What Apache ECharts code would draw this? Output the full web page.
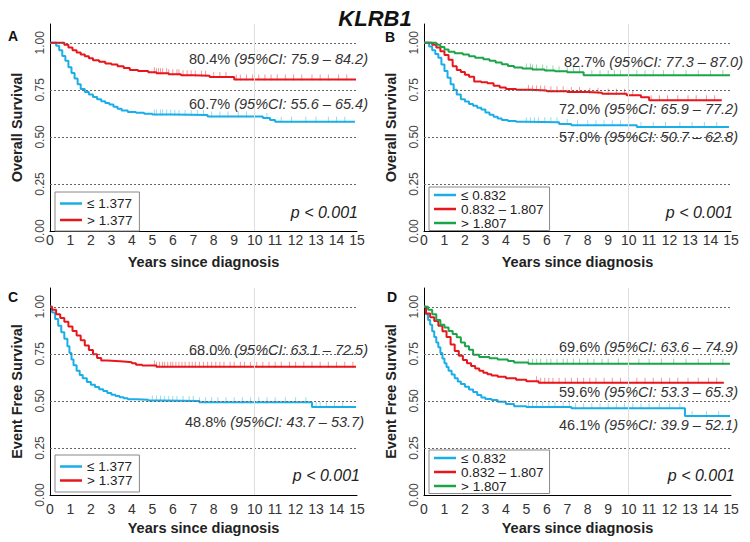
<!DOCTYPE html>
<html>
<head>
<meta charset="utf-8">
<script src="https://cdn.jsdelivr.net/npm/echarts@6/dist/echarts.min.js"></script>
<style>html,body{margin:0;padding:0;background:#fff;}#c{width:750px;height:542px;}</style>
</head>
<body>
<div id="c"></div>
<script>
// ---------- DATA ----------
const title = 'KLRB1';
const xTicks = [0,1,2,3,4,5,6,7,8,9,10,11,12,13,14,15];
const yTicks = [0, 0.25, 0.5, 0.75, 1.0];
const panelLetters = ['A','B','C','D'];
const yNames = ['Overall Survival','Overall Survival','Event Free Survival','Event Free Survival'];
const xName = 'Years since diagnosis';
const pText = 'p < 0.001';
const names2 = ['≤ 1.377', '> 1.377'];
const names3 = ['≤ 0.832', '0.832 – 1.807', '> 1.807'];

// Panel A (OS, 2 groups)
const A_low_t  = [0,0.3,0.45,0.6,0.75,0.9,1.05,1.2,1.35,1.5,1.7,1.9,2.1,2.3,2.5,2.7,2.9,3.1,3.3,3.5,3.8,4.2,4.6,5.0,6.0,7.7,10.4,10.75,11.0,14.9];
const A_low_s  = [1.0,0.985,0.96,0.93,0.905,0.87,0.84,0.81,0.78,0.755,0.738,0.725,0.712,0.70,0.69,0.68,0.672,0.66,0.65,0.64,0.633,0.628,0.623,0.619,0.616,0.609,0.600,0.59,0.58,0.58];
const A_high_t = [0,0.7,0.9,1.1,1.3,1.5,1.7,1.9,2.1,2.4,2.7,3.0,3.3,3.6,3.9,4.3,4.8,5.2,5.8,6.4,7.0,7.8,9.0,14.95];
const A_high_s = [1.0,0.99,0.975,0.96,0.948,0.938,0.928,0.918,0.908,0.899,0.89,0.885,0.876,0.866,0.856,0.85,0.844,0.838,0.833,0.828,0.825,0.818,0.805,0.805];
const A_low_c  = [5.1,5.2,5.4,5.5,5.7,5.9,6.1,6.3,6.6,6.9,7.2,7.5,7.9,8.3,8.7,9.2,9.6,10.0,10.6,11.3,11.8,12.5,13.0,13.6,14.0,14.4];
const A_high_c = [5.1,5.2,5.3,5.4,5.5,5.7,5.8,6.0,6.2,6.3,6.5,6.7,6.9,7.1,7.4,7.6,8.0,8.3,8.6,9.1,9.3,9.6,9.9,10.2,10.5,10.8,11.1,11.5,11.9,12.3,12.8,13.2,13.6,14.1,14.5];

// Panel B (OS, 3 groups)
const B_low_t  = [0,0.25,0.4,0.55,0.7,0.85,1.0,1.15,1.3,1.45,1.6,1.8,2.0,2.2,2.4,2.6,2.8,3.0,3.2,3.4,3.6,3.8,4.1,4.5,5.0,6.6,7.2,10.4,14.9];
const B_low_s  = [1.0,0.98,0.96,0.94,0.92,0.885,0.85,0.815,0.78,0.75,0.725,0.70,0.688,0.675,0.665,0.655,0.645,0.63,0.618,0.607,0.598,0.59,0.585,0.581,0.578,0.568,0.562,0.552,0.552];
const B_mid_t  = [0,0.4,0.6,0.8,1.0,1.2,1.4,1.6,1.8,2.0,2.2,2.45,2.8,3.1,3.4,3.7,4.0,4.5,5.2,6.0,7.0,8.0,8.7,9.9,10.6,11.0,14.55];
const B_mid_s  = [1.0,0.99,0.975,0.955,0.935,0.91,0.875,0.855,0.845,0.83,0.82,0.795,0.79,0.785,0.772,0.762,0.755,0.75,0.747,0.743,0.738,0.735,0.729,0.722,0.711,0.695,0.695];
const B_high_t = [0,0.6,0.8,1.0,1.2,1.5,1.9,2.2,2.5,2.9,3.2,3.5,3.8,4.1,4.4,4.8,5.3,5.9,6.4,7.0,7.8,14.95];
const B_high_s = [1.0,0.99,0.978,0.965,0.953,0.945,0.938,0.928,0.92,0.913,0.905,0.896,0.886,0.877,0.869,0.863,0.858,0.853,0.849,0.843,0.828,0.828];
const B_low_c  = [5.0,5.2,5.4,5.6,5.9,6.2,6.5,7.0,7.5,8.0,8.4,8.8,9.2,9.6,10.0,10.6,11.2,11.8,12.5,13.1,13.7,14.3];
const B_mid_c  = [5.1,5.3,5.5,5.7,5.9,6.2,6.5,6.8,7.2,7.6,8.1,8.5,9.0,9.4,9.8,10.2,11.1,11.5,11.9,12.4,12.9,13.3,13.8,14.2];
const B_high_c = [5.0,5.2,5.3,5.5,5.8,6.0,6.3,6.6,7.0,7.3,7.6,8.2,8.6,9.0,9.3,9.6,10.0,10.4,10.8,11.2,11.7,12.2,12.8,13.4,14.0,14.6];

// Panel C (EFS, 2 groups)
const C_low_t  = [0,0.1,0.25,0.4,0.55,0.7,0.85,0.95,1.05,1.15,1.3,1.45,1.6,1.8,2.0,2.2,2.4,2.6,2.8,3.0,3.2,3.4,3.6,3.8,4.2,4.8,5.5,7.3,12.8,14.95];
const C_low_s  = [1.0,0.97,0.935,0.9,0.865,0.83,0.79,0.755,0.72,0.69,0.66,0.638,0.62,0.60,0.586,0.574,0.562,0.552,0.542,0.533,0.526,0.52,0.514,0.509,0.506,0.502,0.499,0.493,0.468,0.468];
const C_high_t = [0,0.1,0.3,0.5,0.7,0.9,1.1,1.3,1.5,1.7,1.9,2.1,2.3,2.5,2.8,3.2,3.6,4.0,4.2,4.5,5.2,14.95];
const C_high_s = [1.0,0.985,0.96,0.94,0.92,0.895,0.872,0.848,0.822,0.795,0.77,0.748,0.728,0.715,0.712,0.709,0.706,0.70,0.692,0.688,0.682,0.682];
const C_low_c  = [5.0,5.2,5.4,5.6,5.8,6.0,6.2,6.5,6.8,7.0,7.3,7.6,7.9,8.2,8.6,9.0,9.4,9.8,10.2,10.6,11.0,11.5,12.0,12.5,13.0,13.2,13.5,13.9,14.3];
const C_high_c = [5.1,5.2,5.35,5.5,5.6,5.75,5.9,6.0,6.15,6.3,6.45,6.6,6.8,6.95,7.1,7.3,7.5,7.7,7.9,8.1,8.3,8.5,8.8,9.0,9.3,9.5,9.8,10.1,10.4,10.7,11.0,11.3,11.7,12.0,12.4,12.8,13.2,13.6,14.0,14.4,14.8];

// Panel D (EFS, 3 groups)
const D_low_t  = [0,0.1,0.2,0.3,0.4,0.5,0.6,0.7,0.8,0.9,1.0,1.1,1.2,1.35,1.5,1.65,1.8,2.0,2.2,2.4,2.6,2.8,3.0,3.3,3.6,4.0,4.4,5.0,7.2,12.75,14.95];
const D_low_s  = [1.0,0.96,0.93,0.905,0.87,0.84,0.81,0.785,0.755,0.725,0.70,0.68,0.66,0.64,0.62,0.603,0.59,0.575,0.56,0.547,0.532,0.518,0.51,0.505,0.495,0.483,0.472,0.467,0.461,0.42,0.42];
const D_mid_t  = [0,0.1,0.3,0.5,0.7,0.9,1.1,1.3,1.5,1.7,1.9,2.1,2.3,2.5,2.7,2.9,3.1,3.3,3.6,4.0,4.5,5.0,5.6,14.65];
const D_mid_s  = [1.0,0.965,0.945,0.925,0.9,0.87,0.84,0.80,0.765,0.74,0.718,0.70,0.685,0.672,0.66,0.65,0.642,0.635,0.628,0.621,0.613,0.605,0.597,0.597];
const D_high_t = [0,0.2,0.4,0.6,0.8,1.0,1.2,1.4,1.6,1.8,2.0,2.2,2.4,2.7,3.2,3.6,4.1,4.4,5.1,14.95];
const D_high_s = [1.0,0.985,0.96,0.93,0.905,0.89,0.872,0.855,0.838,0.81,0.79,0.772,0.745,0.733,0.727,0.72,0.712,0.704,0.698,0.698];
const D_low_c  = [5.1,5.3,5.5,5.8,6.1,6.4,6.8,7.1,7.4,7.8,8.2,8.6,9.0,9.4,9.8,10.2,10.6,11.0,11.5,12.0,12.5,13.1,13.8,14.4];
const D_mid_c  = [5.5,5.7,5.9,6.1,6.3,6.6,6.9,7.2,7.5,7.8,8.1,8.4,8.8,9.2,9.6,10.0,10.4,10.8,11.2,11.6,12.0,12.4,12.9,13.4,13.9,14.3];
const D_high_c = [5.1,5.3,5.5,5.7,6.0,6.2,6.5,6.8,7.0,7.3,7.6,8.0,8.3,8.7,9.0,9.5,10.0,10.5,11.0,11.6,12.2,12.8,13.4,14.0,14.6];

// annotation texts [estimate, CI]
const A_notes = [['80.4%','(95%CI: 75.9 – 84.2)'], ['60.7%','(95%CI: 55.6 – 65.4)']];
const B_notes = [['82.7%','(95%CI: 77.3 – 87.0)'], ['72.0%','(95%CI: 65.9 – 77.2)'], ['57.0%','(95%CI: 50.7 – 62.8)']];
const C_notes = [['68.0%','(95%CI: 63.1 – 72.5)'], ['48.8%','(95%CI: 43.7 – 53.7)']];
const D_notes = [['69.6%','(95%CI: 63.6 – 74.9)'], ['59.6%','(95%CI: 53.3 – 65.3)'], ['46.1%','(95%CI: 39.9 – 52.1)']];

// ---------- STYLE / LAYOUT ----------
const FONT = 'Liberation Sans, Arial, sans-serif';
const BLUE = '#1AAEE8', RED = '#E8161C', GREEN = '#1BA54A';
const grids = [
  {left:50, top:24, width:307, height:207},
  {left:424, top:24, width:307, height:207},
  {left:50, top:288, width:307, height:207},
  {left:424, top:288, width:307, height:207}
];
function survAt(ts, ss, t){ let v = ss[0]; for (let i=0;i<ts.length;i++){ if (ts[i] <= t) v = ss[i]; } return v; }
function toPts(ts, ss){ return ts.map((t,i)=>[t, ss[i]]); }

const curves = [
  [0, names2[0], A_low_t, A_low_s, A_low_c, BLUE],
  [0, names2[1], A_high_t, A_high_s, A_high_c, RED],
  [1, names3[0], B_low_t, B_low_s, B_low_c, BLUE],
  [1, names3[1], B_mid_t, B_mid_s, B_mid_c, RED],
  [1, names3[2], B_high_t, B_high_s, B_high_c, GREEN],
  [2, names2[0], C_low_t, C_low_s, C_low_c, BLUE],
  [2, names2[1], C_high_t, C_high_s, C_high_c, RED],
  [3, names3[0], D_low_t, D_low_s, D_low_c, BLUE],
  [3, names3[1], D_mid_t, D_mid_s, D_mid_c, RED],
  [3, names3[2], D_high_t, D_high_s, D_high_c, GREEN]
];

const series = [];
for (let g=0; g<4; g++){
  series.push({
    type:'line', xAxisIndex:g, yAxisIndex:g, data:[], silent:true, z:1, name:'ref'+g,
    markLine:{
      silent:true, symbol:['none','none'], label:{show:false}, animation:false,
      data:[
        ...yTicks.filter(v=>v>0).map(v=>({yAxis:v, lineStyle:{color:'#666', type:[2,2], width:1}})),
        {xAxis:10, lineStyle:{color:'#dedede', type:'solid', width:1}}
      ]
    }
  });
}
curves.forEach(([g,name,ts,ss,cs,col])=>{
  series.push({
    type:'line', name:name, xAxisIndex:g, yAxisIndex:g, step:'end',
    data: toPts(ts, ss), showSymbol:false, symbol:'none', z:4,
    lineStyle:{color:col, width:2}, itemStyle:{color:col}, animation:false
  });
  series.push({
    type:'scatter', name:'cens_'+g+'_'+name, xAxisIndex:g, yAxisIndex:g,
    data: cs.map(t=>[t, survAt(ts, ss, t)]), symbol:'rect', symbolSize:[1,6], symbolOffset:[0,-2],
    itemStyle:{color:col, opacity:0.45}, z:3, silent:true, animation:false
  });
});

const xAxes = grids.map((gr,i)=>({
  type:'value', gridIndex:i, min:0, max:15, interval:1,
  axisLine:{show:true, onZero:false, lineStyle:{color:'#000', width:1}},
  axisTick:{show:false}, splitLine:{show:false},
  axisLabel:{margin: i<2 ? 2 : 7, fontSize:14, color:'#333', fontFamily:FONT, showMinLabel:true, showMaxLabel:true},
  name:xName, nameLocation:'middle', nameGap: i<2 ? 23 : 25, nameMoveOverlap:false,
  nameTextStyle:{fontSize:14.5, fontWeight:'bold', color:'#222', fontFamily:FONT, verticalAlign:'top'}
}));
const yAxes = grids.map((gr,i)=>({
  type:'value', gridIndex:i, min:0, max:1.1,
  axisLine:{show:true, lineStyle:{color:'#000', width:1}},
  axisTick:{show:false}, splitLine:{show:false},
  axisLabel:{customValues:yTicks, rotate:90, margin:4, fontSize:12, color:'#444', fontFamily:FONT,
    formatter:(v)=>v.toFixed(2)},
  name:yNames[i], nameLocation:'middle', nameGap:26, nameMoveOverlap:false,
  nameTextStyle:{fontSize:14.5, fontWeight:'bold', color:'#222', fontFamily:FONT}
}));

const legendBase = {orient:'vertical', icon:'rect', itemWidth:22, itemHeight:2.5, borderColor:'#888', borderWidth:1,
  borderRadius:0, selectedMode:false, backgroundColor:'#fff',
  textStyle:{fontSize:13.5, lineHeight:13.5, color:'#222', fontFamily:FONT}};
const legends = [
  Object.assign({}, legendBase, {left:55, top:192, data:names2, itemGap:2.5, padding:[4.5,7,4,5]}),
  Object.assign({}, legendBase, {left:429, top:187, data:names3, itemGap:0, padding:[1,6,0.5,5]}),
  Object.assign({}, legendBase, {left:55, top:455, data:names2, itemGap:0, padding:[4.5,7,4.5,5]}),
  Object.assign({}, legendBase, {left:429, top:450, data:names3, itemGap:0, padding:[1,6,0.5,5]})
];

const graphics = [];
const letterPos = [[13,36],[390,37],[13,297],[392,297]];
panelLetters.forEach((L,i)=>graphics.push({type:'text', x:letterPos[i][0], y:letterPos[i][1],
  style:{text:L, font:'bold 14px '+FONT, fill:'#111', align:'center', verticalAlign:'middle'}}));
const pPos = [[358,212],[733,212],[360,475],[735,475]];
pPos.forEach(p=>graphics.push({type:'text', x:p[0], y:p[1],
  style:{text:pText, font:'italic 16px '+FONT, fill:'#222', align:'right', verticalAlign:'middle'}}));
function note(pair, x, y){
  graphics.push({type:'text', x:x, y:y, z:10,
    style:{text:'{n|'+pair[0]+' }{i|'+pair[1]+'}', align:'right', verticalAlign:'middle', fill:'#333',
      font:'14.5px '+FONT,
      rich:{n:{fontSize:14.5, fontFamily:FONT, fill:'#333', color:'#333'}, i:{fontSize:14.5, fontStyle:'italic', fontFamily:FONT, fill:'#333', color:'#333'}}}});
}
note(A_notes[0], 368, 59); note(A_notes[1], 368, 104);
note(B_notes[0], 743, 62); note(B_notes[1], 738, 109); note(B_notes[2], 738, 137);
note(C_notes[0], 368, 350); note(C_notes[1], 364, 422);
note(D_notes[0], 738, 347); note(D_notes[1], 738, 392); note(D_notes[2], 738, 425);

const chart = echarts.init(document.getElementById('c'), null, {renderer:'svg', width:750, height:542});
chart.setOption({
  backgroundColor:'#fff',
  animation:false,
  title:{text:title, left:'center', top:2, textStyle:{fontSize:22, fontWeight:'bold', fontStyle:'italic', color:'#111', fontFamily:FONT}},
  grid: grids.map(g=>Object.assign({outerBoundsMode:'none', containLabel:false}, g)),
  xAxis: xAxes,
  yAxis: yAxes,
  legend: legends,
  series: series,
  graphic: graphics
});
</script>
</body>
</html>
